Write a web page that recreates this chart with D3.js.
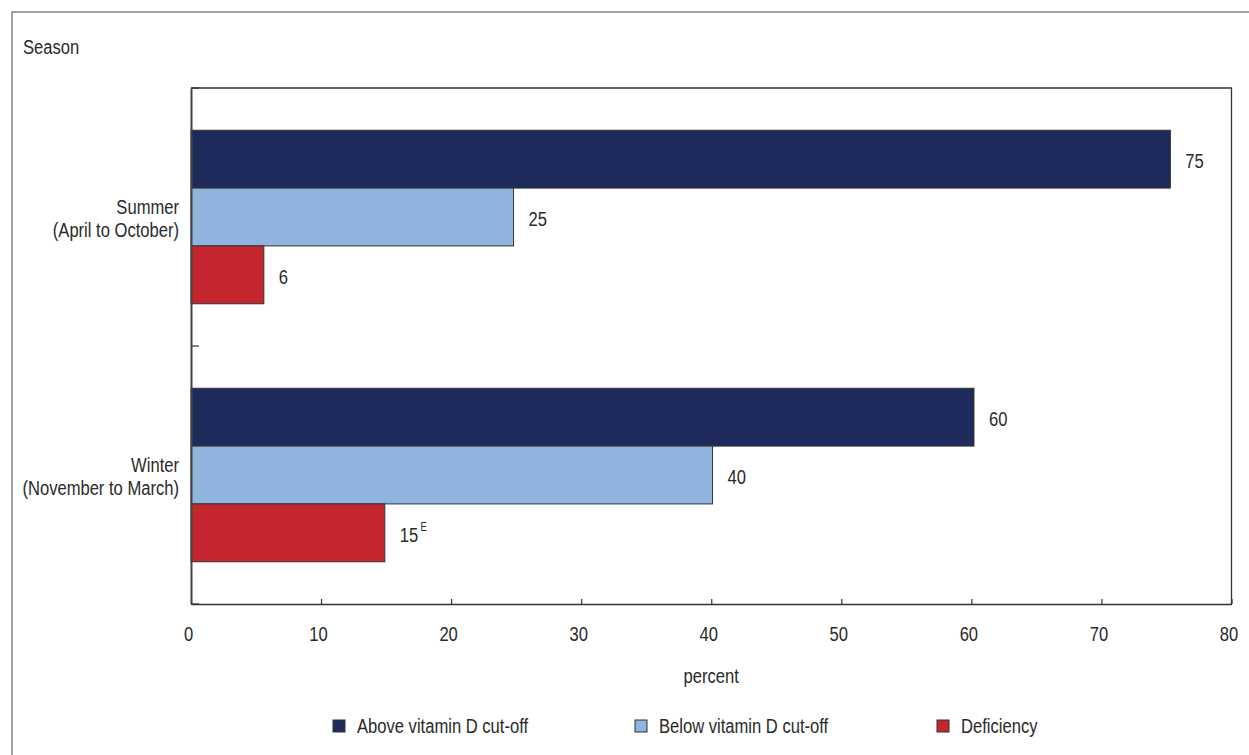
<!DOCTYPE html>
<html><head><meta charset="utf-8">
<script src="https://cdn.jsdelivr.net/npm/d3@7"></script>
<style>
body{margin:0;background:#fff}
svg{display:block}
text{font-family:"Liberation Sans",Arial,sans-serif;fill:#2a2a2a}
</style></head>
<body><svg id="c" width="1249" height="755"></svg>
<script>
// ---- data ----
const categories = ["Summer", "Winter"];
const categorySubtitles = ["(April to October)", "(November to March)"];
const seriesNames = ["Above vitamin D cut-off", "Below vitamin D cut-off", "Deficiency"];
const aboveValues = [75.3, 60.2];
const belowValues = [24.8, 40.1];
const deficiencyValues = [5.6, 14.9];
const aboveLabels = ["75", "60"];
const belowLabels = ["25", "40"];
const deficiencyLabels = ["6", "15"];
const deficiencyFlags = ["", "E"];
const xTicks = [0, 10, 20, 30, 40, 50, 60, 70, 80];
const colors = ["#1f2a5c", "#8fb4dd", "#c4262e"];

const seriesValues = [aboveValues, belowValues, deficiencyValues];
const seriesLabels = [aboveLabels, belowLabels, deficiencyLabels];
const seriesFlags = [["", ""], ["", ""], deficiencyFlags];

// ---- layout ----
const W = 1249, H = 755;
const L = 191, R = 1231.5, T = 88, B = 604;
const SX = 0.79, FS = 21;

const svg = d3.select("#c");

// outer border (left and top visible)
svg.append("path").attr("d", `M12,${H} L12,12 L${W},12`)
  .attr("fill", "none").attr("stroke", "#a3a3a3").attr("stroke-width", 2);

function txt(x, y, s, anchor, size) {
  return svg.append("text")
    .attr("transform", `translate(${x},${y}) scale(${SX},1)`)
    .attr("text-anchor", anchor || "start")
    .style("font-size", (size || FS) + "px")
    .text(s);
}

const x = d3.scaleLinear().domain([0, 80]).range([L, R]);
const y = d3.scaleBand().domain(categories).range([T, B]).paddingInner(0.3275).paddingOuter(0.16375);
const sub = d3.scaleBand().domain([0, 1, 2]).range([0, y.bandwidth()]);

// plot frame (top & right)
svg.append("path").attr("d", `M${L},${T} L${R},${T} L${R},${B}`)
  .attr("fill", "none").attr("stroke", "#333").attr("stroke-width", 1.3);

// bars
categories.forEach((c, ci) => {
  seriesValues.forEach((vals, si) => {
    const y0 = y(c) + sub(si);
    svg.append("rect")
      .attr("x", x(0)).attr("y", y0)
      .attr("width", x(vals[ci]) - x(0)).attr("height", sub.bandwidth())
      .attr("fill", colors[si]).attr("stroke", "#333").attr("stroke-width", 1);
    const t = txt(x(vals[ci]) + 15, y0 + sub.bandwidth() / 2 + 9, seriesLabels[si][ci], "start");
    if (seriesFlags[si][ci]) {
      t.append("tspan").attr("dx", 3).attr("dy", -11).style("font-size", "12px").text(seriesFlags[si][ci]);
    }
  });
});

// x axis
const xAxis = svg.append("g").attr("transform", `translate(0,${B})`)
  .call(d3.axisBottom(x).tickValues(xTicks).tickSize(-5).tickSizeOuter(0).tickFormat(d3.format("d")));
xAxis.select(".domain").attr("stroke", "#333").attr("stroke-width", 1.5);
xAxis.selectAll(".tick line").attr("stroke", "#333").attr("stroke-width", 1.2);
xAxis.selectAll(".tick text")
  .attr("y", 0).attr("dy", 0)
  .attr("transform", `translate(-3,37) scale(${SX},1)`)
  .style("font-size", FS + "px").style("font-family", '"Liberation Sans",Arial,sans-serif')
  .attr("fill", "#2a2a2a");

// y axis (line + boundary ticks inside)
const yAxis = svg.append("g").attr("transform", `translate(${L},0)`)
  .call(d3.axisLeft(y).tickSize(0).tickFormat(""));
yAxis.select(".domain").attr("stroke", "#444").attr("stroke-width", 2);
const half = y.step() * y.paddingInner() / 2;
const boundaries = categories.map(c => y(c) - half).concat([y(categories[categories.length - 1]) + y.bandwidth() + half]);
yAxis.selectAll(".bt").data(boundaries).enter().append("line")
  .attr("x1", 0).attr("x2", 8).attr("y1", d => d).attr("y2", d => d)
  .attr("stroke", "#333").attr("stroke-width", 1.2);

// category labels
categories.forEach((c, ci) => {
  const cy = y(c) + y.bandwidth() / 2;
  txt(179, cy - 3, c, "end");
  txt(179, cy + 20, categorySubtitles[ci], "end");
});

// titles
txt(23, 54, "Season", "start");
txt((L + R) / 2, 683, "percent", "middle");

// legend
seriesNames.forEach((n, i) => {
  const lx = 333 + i * 302;
  svg.append("rect").attr("x", lx).attr("y", 720).attr("width", 12).attr("height", 12)
    .attr("fill", colors[i]).attr("stroke", "#333").attr("stroke-width", 1);
  txt(lx + 24, 733, n, "start");
});
</script>
</body></html>
